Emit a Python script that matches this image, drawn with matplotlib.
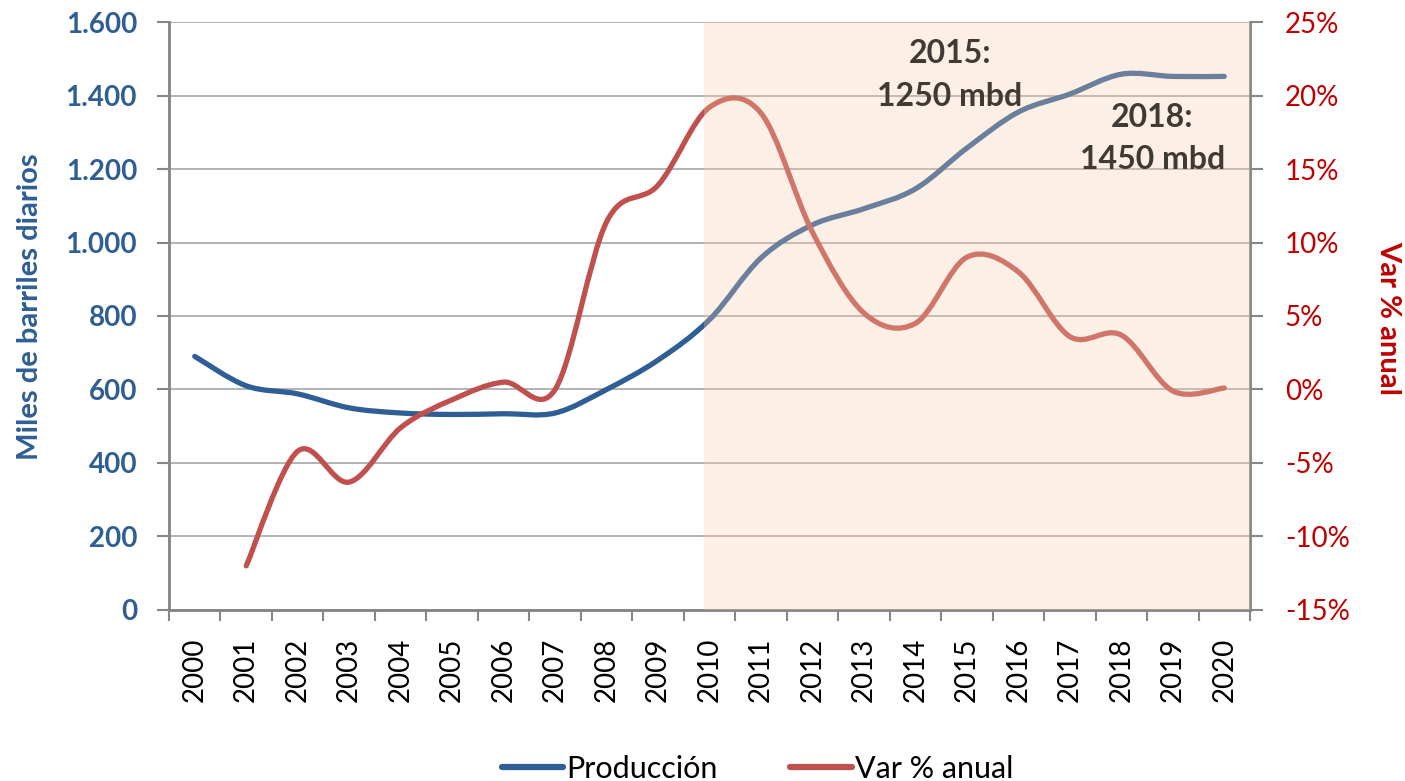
import matplotlib.pyplot as plt
from matplotlib.path import Path
from matplotlib.patches import PathPatch
from matplotlib.lines import Line2D
from matplotlib.ticker import FixedLocator, FuncFormatter

plt.rcParams['font.family'] = ['Lato', 'DejaVu Sans']

years = [str(y) for y in range(2000, 2021)]
produccion = [690, 610, 588, 550, 536, 532, 534, 536, 600, 680, 790,
              958, 1048, 1092, 1146, 1257, 1355, 1404, 1458, 1452, 1452]
# variación anual (%), desde 2001
var_anual = [-12.0, -4.2, -6.3, -2.6, -0.7, 0.5, 0.0, 11.4, 13.9, 19.2,
             18.8, 10.7, 5.2, 4.5, 9.0, 8.0, 3.6, 3.7, -0.1, 0.1]
var_start = 1

BLUE = '#2E5E94'
RED = '#C0504D'
GRID = '#A6A6A6'
SPINE = '#868686'


def smooth_path(xs, ys):
    # bezier como el "suavizado" de Excel
    pts = list(zip(xs, ys))
    verts = [pts[0]]
    codes = [Path.MOVETO]
    n = len(pts)
    for i in range(n - 1):
        p0 = pts[i - 1] if i > 0 else pts[i]
        p1 = pts[i]
        p2 = pts[i + 1]
        p3 = pts[i + 2] if i + 2 < n else pts[i + 1]
        c1 = (p1[0] + (p2[0] - p0[0]) / 6, p1[1] + (p2[1] - p0[1]) / 6)
        c2 = (p2[0] - (p3[0] - p1[0]) / 6, p2[1] - (p3[1] - p1[1]) / 6)
        verts += [c1, c2, p2]
        codes += [Path.CURVE4] * 3
    return Path(verts, codes)


fig = plt.figure(figsize=(14.05, 7.81), dpi=100)
ax = fig.add_axes([0.1203, 0.219, 0.7694, 0.7528])
ax2 = ax.twinx()

x_prod = list(range(len(produccion)))
x_var = list(range(var_start, var_start + len(var_anual)))

ax.add_patch(PathPatch(smooth_path(x_prod, produccion), facecolor='none',
                       edgecolor=BLUE, lw=3.8, capstyle='round', zorder=3))
ax2.add_patch(PathPatch(smooth_path(x_var, var_anual), facecolor='none',
                        edgecolor=RED, lw=3.8, capstyle='round', zorder=3))

# zona sombreada (proyección)
ax2.axvspan(9.9, 20.5, ymin=0, ymax=1, color='#F8CDAC', alpha=0.3, lw=0, zorder=5)

ax.set_xlim(-0.5, 20.5)
ax.set_ylim(0, 1600)
ax2.set_ylim(-15, 25)

ax.set_yticks(range(0, 1601, 200))
ax.yaxis.set_major_formatter(FuncFormatter(lambda v, p: f'{int(v):,}'.replace(',', '.')))
ax2.set_yticks(range(-15, 26, 5))
ax2.yaxis.set_major_formatter(FuncFormatter(lambda v, p: f'{int(v)}%'))

ax.set_xticks(x_prod)
ax.set_xticklabels(years, rotation=90, fontsize=20)
ax.xaxis.set_minor_locator(FixedLocator([i - 0.5 for i in range(len(years) + 1)]))
ax.tick_params(axis='x', which='major', length=0, pad=20)
ax.tick_params(axis='x', which='minor', length=8, width=1.5, color=SPINE, direction='out')

ax.tick_params(axis='y', length=9, width=1.5, color=SPINE, pad=14, labelsize=20,
               labelcolor=BLUE)
for lbl in ax.get_yticklabels():
    lbl.set_fontweight('bold')
ax2.tick_params(axis='y', length=9, width=1.5, color=SPINE, pad=16, labelsize=20,
                labelcolor='#C00000')

ax.grid(axis='y', color=GRID, lw=1.2, zorder=0)
ax.set_axisbelow(True)

for a in (ax, ax2):
    a.spines['top'].set_visible(False)
    for s in ('left', 'right', 'bottom'):
        a.spines[s].set_color(SPINE)
        a.spines[s].set_linewidth(1.8)

fig.text(0.021, 0.607, 'Miles de barriles diarios', rotation=90, ha='center',
         va='center', fontsize=21, fontweight='bold', color=BLUE)
fig.text(0.988, 0.593, 'Var % anual', rotation=270, ha='center', va='center',
         fontsize=21, fontweight='bold', color='#C00000')

ax2.text(14.67, 21.4, '2015:\n1250 mbd', ha='center', va='center', fontsize=23,
         fontweight='bold', color='#403A35', linespacing=1.55, zorder=6)
ax2.text(18.6, 17.1, '2018:\n1450 mbd', ha='center', va='center', fontsize=23,
         fontweight='bold', color='#403A35', linespacing=1.55, zorder=6)

handles = [Line2D([], [], color=BLUE, lw=4.5, solid_capstyle='round'),
           Line2D([], [], color=RED, lw=4.5, solid_capstyle='round')]
fig.legend(handles, ['Producción', 'Var % anual'], loc='center', ncol=2,
           bbox_to_anchor=(0.539, 0.016), frameon=False, fontsize=22,
           handlelength=2.0, handletextpad=0.1, columnspacing=2.4)

fig.savefig('out.png', dpi=100)
